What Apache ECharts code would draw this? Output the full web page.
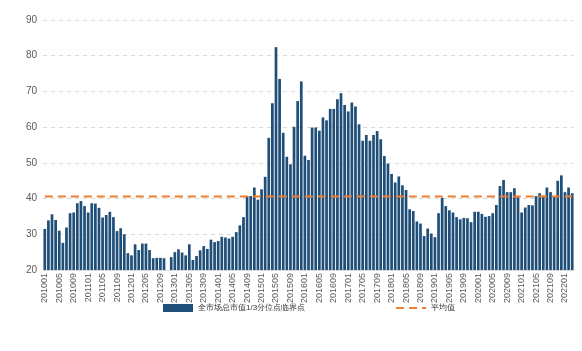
<!DOCTYPE html>
<html lang="zh">
<head>
    <meta http-equiv="Content-Type" content="text/html; charset=UTF-8">
    <title>全市场总市值1/3分位点临界点</title>
    <script type="text/javascript" src="https://cdn.jsdelivr.net/npm/echarts@6/dist/echarts.min.js"></script>
</head>
<body style="margin:0;width:582px;height:351px;background:#fff">
<div id="main" style="width:582px;height:351px"></div>
<script type="text/javascript">
    // 月份 201001 - 202203
    var months = [];
    for (var y = 2010; y <= 2022; y++) {
        for (var m = 1; m <= 12; m++) {
            if (y === 2022 && m > 3) break;
            months.push(y + (m < 10 ? '0' : '') + m);
        }
    }

    // 全市场总市值1/3分位点临界点
    var critValues = [
        31.5, 33.9, 35.6, 34.0, 31.0, 27.6, 31.9, 35.9, 36.1, 38.7, 39.3, 37.9,
        36.1, 38.7, 38.6, 37.4, 34.7, 35.4, 36.3, 34.8, 30.9, 31.7, 30.0, 24.7,
        24.1, 27.2, 25.6, 27.4, 27.4, 25.6, 23.3, 23.4, 23.4, 23.3, null, 23.6,
        25.0, 25.8, 24.9, 24.1, 27.2, 22.8, 23.9, 25.5, 26.7, 25.9, 28.5, 27.8,
        28.1, 29.3, 29.1, 28.8, 29.3, 30.6, 32.5, 34.8, 40.7, 40.7, 43.1, 39.7,
        42.6, 46.1, 57.0, 66.7, 82.4, 73.5, 58.4, 51.7, 49.6, 60.1, 67.3, 72.8,
        52.0, 50.8, 59.9, 59.9, 59.0, 62.7, 61.9, 65.1, 65.1, 67.8, 69.5, 66.2,
        64.4, 66.9, 65.8, 60.8, 56.2, 57.8, 56.2, 57.8, 58.9, 56.6, 51.9, 49.8,
        46.9, 44.5, 46.2, 43.7, 42.4, 37.0, 36.5, 33.6, 33.0, 29.5, 31.6, 30.2,
        29.2, 35.9, 40.2, 37.9, 36.7, 36.1, 34.8, 34.2, 34.6, 34.5, 33.4, 36.3,
        36.3, 35.7, 34.9, 35.1, 35.9, 38.2, 43.5, 45.2, 41.8, 41.8, 42.9, 40.4,
        36.1, 37.5, 38.2, 38.1, 40.7, 41.5, 40.8, 43.1, 41.8, 40.7, 45.0, 46.5,
        41.8, 43.1, 41.5
    ];

    // 平均值
    var avgValue = 40.6;
    var avgLine = months.map(function () { return avgValue; });

    var myChart = echarts.init(document.getElementById('main'));

    myChart.setOption({
        animation: false,
        grid: {
            left: 43,
            right: 8,
            top: 20,
            bottom: 81
        },
        legend: {
            left: 158,
            top: 299,
            itemGap: 90,
            itemWidth: 30,
            itemHeight: 8,
            textStyle: {
                fontSize: 8,
                color: '#333333'
            },
            data: [
                {name: '全市场总市值1/3分位点临界点', icon: 'rect'},
                {name: '平均值', itemStyle: {opacity: 0}}
            ]
        },
        xAxis: {
            type: 'category',
            data: months,
            axisLine: {lineStyle: {color: '#d9d9d9'}},
            axisTick: {show: false},
            axisLabel: {
                interval: 3,
                rotate: 90,
                fontSize: 9,
                color: '#595959',
                margin: 3
            }
        },
        yAxis: {
            type: 'value',
            min: 20,
            max: 90,
            interval: 10,
            axisLine: {show: false},
            axisTick: {show: false},
            axisLabel: {
                fontSize: 10,
                color: '#595959',
                margin: 6
            },
            splitLine: {
                lineStyle: {color: '#d9d9d9', type: [4, 4]}
            }
        },
        series: [
            {
                name: '全市场总市值1/3分位点临界点',
                type: 'bar',
                data: critValues,
                barCategoryGap: '25%',
                itemStyle: {color: '#1F4E79'}
            },
            {
                name: '平均值',
                type: 'line',
                data: avgLine,
                symbol: 'none',
                lineStyle: {color: '#ED7D31', width: 2, type: [8, 5]},
                itemStyle: {color: '#ED7D31'}
            }
        ]
    });
</script>
</body>
</html>
